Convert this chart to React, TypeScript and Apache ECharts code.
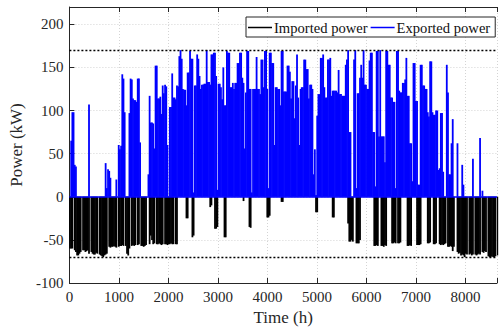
import React, { useEffect, useRef } from "react";
import * as echarts from "echarts";

// Daily peak exported power (kW), day 0..364
const exportedPower: number[] = [
  0, 65, 98, 98, 37, 35, 0, 0, 0, 0,
  0, 0, 0, 0, 0, 0, 107, 0, 0, 0,
  0, 0, 0, 0, 0, 0, 0, 0, 0, 0,
  39, 10, 32, 30, 22, 0, 0, 0, 0, 20,
  0, 60, 55, 59, 142, 137, 98, 0, 0, 0,
  97, 137, 136, 114, 112, 112, 110, 137, 137, 63,
  0, 0, 0, 0, 0, 0, 26, 117, 86, 86,
  85, 56, 152, 152, 114, 114, 116, 96, 129, 120,
  130, 128, 60, 0, 104, 104, 143, 115, 115, 113,
  129, 128, 163, 170, 160, 125, 124, 124, 106, 144,
  144, 169, 160, 160, 5, 129, 129, 165, 160, 140,
  125, 130, 130, 131, 131, 170, 133, 133, 130, 165,
  165, 167, 167, 140, 8, 131, 131, 127, 113, 150,
  106, 106, 169, 167, 167, 127, 127, 132, 125, 132,
  132, 155, 155, 167, 167, 138, 132, 56, 121, 169,
  169, 125, 125, 5, 125, 125, 125, 162, 125, 125,
  119, 159, 159, 127, 169, 169, 125, 10, 167, 167,
  155, 155, 60, 127, 127, 125, 125, 106, 169, 169,
  122, 122, 122, 152, 152, 145, 114, 134, 134, 91,
  129, 165, 115, 60, 125, 127, 127, 159, 159, 148,
  148, 114, 130, 130, 125, 26, 55, 2, 94, 119,
  119, 161, 161, 165, 127, 115, 115, 159, 159, 161,
  117, 123, 123, 123, 123, 121, 147, 119, 119, 117,
  117, 117, 153, 159, 170, 75, 75, 0, 0, 159,
  170, 10, 120, 120, 138, 153, 138, 170, 130, 130,
  125, 125, 158, 167, 167, 75, 75, 12, 169, 169,
  70, 170, 70, 70, 70, 40, 169, 169, 153, 153,
  115, 115, 110, 110, 10, 169, 169, 123, 121, 121,
  132, 132, 136, 161, 117, 117, 62, 62, 18, 155,
  155, 111, 111, 14, 14, 153, 153, 129, 129, 125,
  125, 98, 93, 157, 157, 98, 95, 95, 100, 100,
  31, 33, 97, 97, 29, 0, 0, 153, 121, 26,
  26, 62, 90, 0, 0, 0, 62, 0, 0, 0,
  37, 14, 0, 0, 0, 0, 0, 0, 0, 44,
  0, 0, 0, 0, 0, 68, 0, 7, 0, 0,
  0, 0, 0, 0, 0, 0, 0, 0, 0, 0,
  0, 0, 0, 0, 0,
];

// Daily peak imported power (kW, negative), day 0..364
const importedPower: number[] = [
  -60, -60, -60, 0, -62, -64, -68, -68, -66, -64,
  0, -62, -62, -64, -63, -62, -66, 0, -64, -66,
  -67, -67, -65, -66, 0, -67, -68, -69, -70, -68,
  -67, -66, 0, -58, -59, -58, -58, -57, -58, -59,
  0, -58, -57, -57, -56, -57, 0, -57, -66, -68,
  -60, 0, -57, -56, -57, -56, 0, -56, -55, 0,
  -57, -57, -58, -57, -56, 0, 0, -55, -45, -50,
  -55, -54, 0, -55, -55, -54, -55, -56, -55, 0,
  -55, -55, -56, -55, -55, -54, -55, -55, 0, -55,
  -55, 0, 0, 0, 0, 0, 0, 0, -25, -25,
  0, 0, 0, -47, -45, 0, 0, 0, 0, 0,
  0, 0, 0, 0, 0, 0, 0, 0, -12, -10,
  0, 0, -37, -37, -35, 0, 0, 0, 0, 0,
  -47, -47, 0, 0, 0, 0, 0, 0, 0, 0,
  0, 0, 0, 0, 0, 0, -5, 0, 0, 0,
  0, -35, -36, 0, 0, 0, 0, 0, 0, 0,
  0, 0, 0, 0, 0, 0, -24, -24, -22, 0,
  0, 0, 0, 0, 0, 0, 0, 0, -6, -6,
  0, 0, 0, 0, 0, 0, 0, 0, 0, 0,
  0, 0, 0, 0, 0, 0, 0, 0, 0, 0,
  0, 0, 0, 0, 0, 0, 0, -18, -18, 0,
  0, 0, 0, 0, 0, 0, 0, 0, 0, 0,
  0, -24, -24, 0, 0, 0, 0, 0, 0, 0,
  0, 0, 0, 0, -31, -52, -52, -50, -52, 0,
  0, -54, -54, -54, -50, 0, 0, 0, 0, 0,
  0, 0, 0, 0, 0, 0, -57, -57, -56, -57,
  0, 0, -57, -57, -58, -56, -57, 0, 0, 0,
  0, -54, -54, -53, -54, 0, -54, -54, -53, 0,
  0, 0, 0, 0, -57, -57, -56, -57, 0, 0,
  0, 0, -56, -56, -56, -55, 0, 0, 0, 0,
  0, -54, -54, -53, 0, 0, -55, -55, -54, 0,
  0, -55, -56, -55, -56, -55, -54, 0, -58, -58,
  -57, -58, -63, -58, 0, 0, -64, -66, -65, -68,
  -67, -68, -70, -66, -67, 0, -67, -66, -68, -67,
  0, -67, -68, -67, -66, -67, 0, -64, -65, -63,
  -64, 0, -69, -70, -70, -69, -70, -70, -69, 0,
  -68, -66, -66, -66, -66,
];

const HOURS_PER_DAY = 24;
const limitLines = [170, -70];
const seriesNames = ["Imported power", "Exported power"];

const FONT = '"Liberation Serif", "Times New Roman", serif';
const TXT = "#262626";

export default function App() {
  const ref = useRef<HTMLDivElement>(null);
  useEffect(() => {
    if (!ref.current) return;
    const chart = echarts.init(ref.current, null, { renderer: "svg" });
    const toData = (arr: number[]) =>
      arr.map((v, i) => [i * HOURS_PER_DAY + HOURS_PER_DAY / 2, v]);
    const xMax = 8634;
    chart.setOption({
      animation: false,
      backgroundColor: "#fff",
      textStyle: { fontFamily: FONT, fontWeight: "normal" },
      grid: { left: 68, right: 0, top: 7, bottom: 44 },
      legend: {
        orient: "horizontal",
        left: 246,
        top: 17,
        width: 300,
        data: [
          { name: seriesNames[0], icon: "rect" },
          { name: seriesNames[1], icon: "rect" },
        ],
        itemWidth: 24,
        itemHeight: 1.5,
        itemGap: 3,
        padding: [3, 5, 2, 2],
        borderColor: "#262626",
        borderWidth: 1,
        backgroundColor: "#fff",
        textStyle: {
          fontFamily: FONT,
          fontSize: 14.6,
          fontWeight: "normal",
          color: "#111",
          padding: [0, 0, 0, -3],
        },
      },
      xAxis: [
        {
          type: "value",
          min: 0,
          max: xMax,
          interval: 1000,
          name: "Time (h)",
          nameLocation: "middle",
          nameGap: 26,
          nameTextStyle: { fontFamily: FONT, fontSize: 17, fontWeight: "normal", color: TXT },
          axisLine: { show: true, onZero: false, lineStyle: { color: TXT, width: 1 } },
          axisTick: { show: true, inside: true, length: 5, lineStyle: { color: TXT } },
          axisLabel: {
            fontFamily: FONT,
            fontSize: 15,
            color: TXT,
            margin: 6,
            formatter: (v: number) => (v % 1000 === 0 ? String(v) : ""),
          },
          splitLine: { show: true, lineStyle: { color: "#d4d4d4", type: [1, 2], width: 1 } },
        },
        {
          type: "value",
          position: "top",
          min: 0,
          max: xMax,
          interval: 1000,
          axisLine: { show: true, onZero: false, lineStyle: { color: TXT, width: 1 } },
          axisTick: { show: true, inside: true, length: 5, lineStyle: { color: TXT } },
          axisLabel: { show: false },
          splitLine: { show: false },
        },
      ],
      yAxis: {
        type: "value",
        min: -100,
        max: 220,
        interval: 50,
        name: "Power (kW)",
        nameLocation: "middle",
        nameGap: 39,
        nameTextStyle: { fontFamily: FONT, fontSize: 17, fontWeight: "normal", color: TXT },
        axisLine: { show: true, onZero: false, lineStyle: { color: TXT, width: 1 } },
        axisTick: { show: true, inside: true, length: 5, lineStyle: { color: TXT } },
        axisLabel: {
          fontFamily: FONT,
          fontSize: 15,
          color: TXT,
          margin: 6,
          formatter: (v: number) => (v % 50 === 0 ? String(v) : ""),
        },
        splitLine: { show: true, lineStyle: { color: "#d4d4d4", type: [1, 2], width: 1 } },
      },
      series: [
        {
          name: seriesNames[0],
          type: "bar",
          xAxisIndex: 0,
          data: toData(importedPower),
          barWidth: 1.8,
          barGap: "-100%",
          itemStyle: { color: "#000000" },
          silent: true,
        },
        {
          name: seriesNames[1],
          type: "bar",
          xAxisIndex: 0,
          data: toData(exportedPower),
          barWidth: 1.8,
          barGap: "-100%",
          itemStyle: { color: "#0000ff" },
          silent: true,
          markLine: {
            silent: true,
            symbol: "none",
            label: { show: false },
            data: [
              ...limitLines.map((y) => ({
                yAxis: y,
                lineStyle: { color: "#000", type: [2, 2], width: 1.3 },
              })),
              { yAxis: 0, lineStyle: { color: "#0000ff", type: "solid", width: 1.5 } },
            ],
          },
        },
      ],
    });
    return () => chart.dispose();
  }, []);
  return <div ref={ref} style={{ width: 500, height: 331, position: "absolute", left: 0, top: 0 }} />;
}
